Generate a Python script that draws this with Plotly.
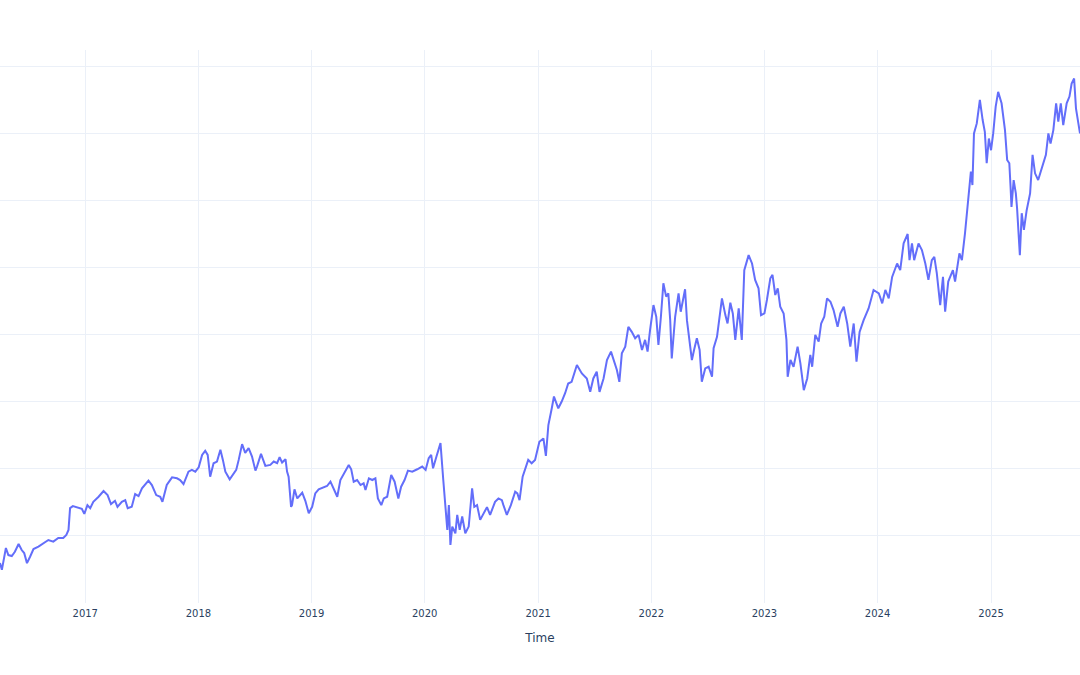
import plotly.graph_objects as go

dates = [
"2016-04-01","2016-04-07","2016-04-20","2016-04-28","2016-05-09","2016-05-19","2016-05-31","2016-06-10","2016-06-18","2016-06-27",
"2016-07-07","2016-07-18","2016-08-03","2016-08-19","2016-09-04","2016-09-20","2016-10-06","2016-10-22","2016-11-01","2016-11-08",
"2016-11-13","2016-11-22","2016-12-05","2016-12-21","2016-12-29",
"2017-01-08","2017-01-17","2017-01-27","2017-02-13","2017-03-01","2017-03-14","2017-03-25","2017-04-07","2017-04-15","2017-04-29",
"2017-05-10","2017-05-18","2017-05-31","2017-06-11","2017-06-22","2017-07-03","2017-07-24","2017-08-04","2017-08-18","2017-08-31",
"2017-09-07","2017-09-21","2017-10-08","2017-10-24","2017-11-03","2017-11-14","2017-11-30","2017-12-11","2017-12-22",
"2018-01-02","2018-01-13","2018-01-23","2018-01-31","2018-02-08","2018-02-19","2018-03-02","2018-03-13","2018-03-21","2018-03-29",
"2018-04-12","2018-04-23","2018-05-03","2018-05-11","2018-05-22","2018-06-01","2018-06-12","2018-06-23","2018-07-04","2018-07-09",
"2018-07-22","2018-08-05","2018-08-21","2018-09-01","2018-09-12","2018-09-20","2018-09-28","2018-10-09","2018-10-14","2018-10-19",
"2018-10-27","2018-10-30","2018-11-07","2018-11-16","2018-11-24","2018-12-02","2018-12-12","2018-12-23",
"2019-01-03","2019-01-13","2019-01-24","2019-02-09","2019-02-20","2019-03-03","2019-03-14","2019-03-25","2019-04-04","2019-04-15",
"2019-05-01","2019-05-09","2019-05-17","2019-05-28","2019-06-08","2019-06-18","2019-06-24","2019-07-05","2019-07-16","2019-07-26",
"2019-08-03","2019-08-14","2019-08-22","2019-09-02","2019-09-15","2019-09-26","2019-10-08","2019-10-17","2019-10-28","2019-11-08",
"2019-11-22","2019-12-08","2019-12-24",
"2020-01-04","2020-01-14","2020-01-22","2020-01-28","2020-02-08","2020-02-15","2020-02-21","2020-03-01","2020-03-08","2020-03-14",
"2020-03-19","2020-03-24","2020-03-30","2020-04-09","2020-04-15","2020-04-23","2020-05-01","2020-05-11","2020-05-22","2020-06-02",
"2020-06-09","2020-06-18","2020-06-28","2020-07-09","2020-07-20","2020-07-30","2020-08-15","2020-08-26","2020-09-06","2020-09-11",
"2020-09-22","2020-10-05","2020-10-19","2020-10-26","2020-11-02","2020-11-12","2020-11-20","2020-11-30","2020-12-11","2020-12-22",
"2021-01-05","2021-01-18","2021-01-26","2021-02-03","2021-02-14","2021-02-21","2021-03-07","2021-03-18","2021-03-29","2021-04-08",
"2021-04-19","2021-05-06","2021-05-22","2021-06-07","2021-06-18","2021-06-28","2021-07-09","2021-07-18","2021-07-31","2021-08-11",
"2021-08-24","2021-09-01","2021-09-12","2021-09-20","2021-09-28","2021-10-09","2021-10-19","2021-10-30","2021-11-10","2021-11-21",
"2021-12-02","2021-12-12","2021-12-20","2021-12-28",
"2022-01-08","2022-01-17","2022-01-24","2022-02-01","2022-02-09","2022-02-18","2022-02-25","2022-03-03","2022-03-08","2022-03-19",
"2022-03-30","2022-04-06","2022-04-13","2022-04-20","2022-04-26","2022-05-04","2022-05-12","2022-05-19","2022-05-28","2022-06-06",
"2022-06-13","2022-06-24","2022-07-05","2022-07-16","2022-07-21","2022-08-01","2022-08-17","2022-08-28","2022-09-04","2022-09-13",
"2022-09-21","2022-09-29","2022-10-10","2022-10-20","2022-10-28","2022-11-11","2022-11-22","2022-12-02","2022-12-13","2022-12-21",
"2023-01-01","2023-01-09","2023-01-20","2023-01-27","2023-02-05","2023-02-13","2023-02-21","2023-03-04","2023-03-13","2023-03-17",
"2023-03-26","2023-04-05","2023-04-18","2023-04-27","2023-05-08","2023-05-19","2023-05-29","2023-06-04","2023-06-14","2023-06-25",
"2023-07-03","2023-07-13","2023-07-22","2023-08-02","2023-08-12","2023-08-25","2023-09-03","2023-09-14","2023-09-25","2023-10-05",
"2023-10-16","2023-10-25","2023-11-04","2023-11-17","2023-12-03","2023-12-19",
"2024-01-05","2024-01-16","2024-01-26","2024-02-06","2024-02-17","2024-03-04","2024-03-14","2024-03-25","2024-04-07","2024-04-13",
"2024-04-21","2024-04-28","2024-05-12","2024-05-23","2024-06-03","2024-06-13","2024-06-24","2024-07-02","2024-07-10","2024-07-21",
"2024-07-30","2024-08-06","2024-08-16","2024-08-31","2024-09-07","2024-09-21","2024-09-29","2024-10-09","2024-10-17","2024-10-23",
"2024-10-28","2024-11-02","2024-11-07","2024-11-16","2024-11-26","2024-12-05","2024-12-12","2024-12-18","2024-12-25",
"2025-01-01","2025-01-08","2025-01-16","2025-01-24","2025-02-04","2025-02-15","2025-02-22","2025-03-01","2025-03-05","2025-03-08",
"2025-03-15","2025-03-22","2025-03-26","2025-04-04","2025-04-10","2025-04-17","2025-04-26","2025-05-07","2025-05-15","2025-05-23",
"2025-06-02","2025-06-13","2025-06-27","2025-07-05","2025-07-12","2025-07-21","2025-07-30","2025-08-06","2025-08-14","2025-08-22",
"2025-09-02","2025-09-11","2025-09-18","2025-09-26","2025-10-02","2025-10-15",
]

values = [
51.8,49.8,56.3,54.2,53.9,55.2,57.5,55.7,54.8,51.8,
53.7,56.0,56.7,57.8,58.7,58.2,59.3,59.3,60.2,61.7,
68.2,68.8,68.5,68.0,66.5,
69.1,68.2,70.1,71.6,73.3,72.1,69.4,70.4,68.6,70.1,
70.6,68.2,68.6,72.4,71.8,74.1,76.4,75.1,72.1,71.6,
70.1,75.1,77.4,77.1,76.6,75.4,79.1,79.6,79.1,
80.4,84.1,85.3,84.1,77.6,81.6,82.1,85.6,82.6,79.1,
76.8,78.1,79.6,82.6,87.3,84.7,86.1,83.6,79.4,80.6,
84.4,80.8,81.1,82.1,81.6,83.4,81.8,82.8,79.1,77.6,
68.6,69.1,73.8,71.1,72.1,72.8,70.4,66.7,
68.6,72.6,73.8,74.4,74.8,76.1,73.8,71.6,76.6,78.6,
81.1,79.8,76.1,76.6,75.1,75.6,73.6,77.1,76.6,77.1,
71.1,69.1,71.1,71.6,78.1,76.1,71.1,74.6,76.6,79.4,
79.1,79.8,80.6,
79.6,83.1,84.1,80.1,83.6,86.1,87.6,76.6,68.2,61.7,
69.1,57.2,62.7,60.7,66.2,61.7,65.7,60.7,62.7,74.1,
68.6,69.1,64.7,66.7,68.5,66.2,70.1,71.1,70.6,69.1,
66.2,69.1,73.1,72.6,70.6,77.6,79.8,82.6,81.6,82.6,
88.0,89.0,83.8,93.0,98.0,101.5,98.0,100.0,102.5,105.4,
105.9,110.9,108.4,106.9,102.9,106.9,108.9,102.9,106.9,112.4,
114.9,112.4,109.4,105.9,114.4,116.4,122.3,120.8,118.9,119.9,
115.4,118.4,114.9,121.3,
128.8,125.3,116.9,125.3,135.3,131.3,132.3,124.3,112.9,125.3,
132.3,126.8,130.3,133.5,124.3,117.9,112.4,115.4,118.9,115.4,
105.9,109.9,110.4,107.4,115.9,119.3,130.8,125.8,123.3,129.5,
126.3,118.4,127.8,118.4,139.2,143.7,141.2,136.3,133.8,125.8,
126.3,130.3,136.8,137.8,131.8,133.8,128.3,126.3,118.4,107.4,
112.4,110.4,116.4,111.4,103.4,106.9,113.9,110.4,119.9,117.9,
123.3,125.3,130.8,129.8,127.3,122.3,126.3,128.3,123.3,116.4,
123.3,111.9,120.8,124.3,127.8,133.3,
132.3,129.3,133.3,130.8,137.2,141.2,139.2,147.2,150.0,142.2,
147.2,142.2,147.2,145.2,141.2,136.3,142.2,143.2,138.3,128.8,
137.2,126.8,135.8,139.2,135.8,144.2,142.2,150.2,158.1,164.1,
168.6,164.6,180.0,183.0,190.0,184.0,180.5,171.1,178.5,
175.0,180.0,188.0,192.4,189.0,181.0,172.1,171.1,164.1,158.1,
166.1,162.1,157.7,143.7,156.2,151.2,157.1,162.1,173.6,168.1,
166.1,169.1,173.6,180.0,177.0,181.0,189.0,183.5,189.0,182.5,
189.0,191.0,194.9,196.4,187.5,180.0,
]

fig = go.Figure(go.Scatter(x=dates, y=values, mode="lines",
                           line=dict(color="#636efa", width=2)))
fig.update_layout(
    template="plotly_white",
    width=1080, height=675,
    margin=dict(l=0, r=0, t=50, b=72),
    showlegend=False,
    font=dict(family="DejaVu Sans", size=10, color="#2a3f5f"),
)
fig.update_xaxes(title_text="Time", automargin=False, ticklabelstandoff=3)
fig.update_yaxes(range=[39.9, 204.9], dtick=20, tick0=0,
                 showticklabels=False, automargin=False)
fig.write_html("out.html")
